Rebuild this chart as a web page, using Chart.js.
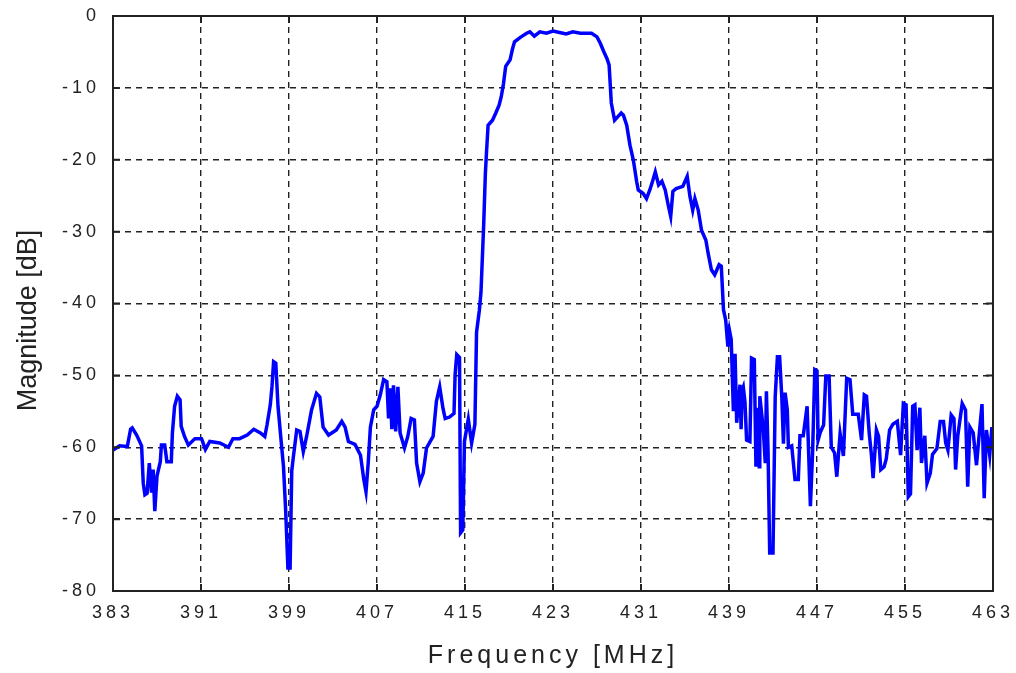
<!DOCTYPE html>
<html>
<head>
    <meta charset='utf-8'>
    <title>Filter response</title>
    <script src="https://cdn.jsdelivr.net/npm/chart.js@4.4.1/dist/chart.umd.min.js"></script>
    <style>
        body { margin: 0; background: #fff; }
    </style>
</head>
<body>
    <canvas id="chart" width="1016" height="673"></canvas>
    <script>
        // frequency [MHz] and magnitude [dB]
        var freq = [383.0, 383.4, 383.6, 384.3, 384.6, 384.75, 385.15, 385.6, 385.75, 385.9, 386.1, 386.3, 386.5, 386.65, 386.8,
            387.0, 387.3, 387.4, 387.7, 387.9, 388.3, 388.4, 388.6, 388.85, 389.1, 389.2, 389.5, 389.85, 390.45, 391.05,
            391.4, 391.8, 392.7, 393.5, 393.9, 394.5, 395.2, 395.8, 396.4, 396.8, 397.0, 397.3, 397.45, 397.6, 397.8,
            398.0, 398.3, 398.5, 398.7, 398.9, 399.1, 399.25, 399.4, 399.7, 400.0, 400.3, 400.6, 401.05, 401.5, 401.8,
            402.1, 402.6, 403.3, 403.8, 404.1, 404.4, 405.0, 405.5, 405.8, 406.0, 406.2, 406.4, 406.7, 407.0, 407.3,
            407.6, 407.9, 408.05, 408.2, 408.35, 408.5, 408.7, 408.9, 409.1, 409.5, 409.8, 410.1, 410.4, 410.6, 410.9,
            411.2, 411.5, 412.1, 412.4, 412.7, 413.0, 413.2, 413.6, 414.0, 414.1, 414.25, 414.5, 414.6, 414.8, 414.95,
            415.3, 415.6, 415.9, 416.05, 416.3, 416.45, 416.7, 416.85, 416.95, 417.1, 417.5, 417.8, 418.1, 418.3, 418.5,
            418.7, 419.1, 419.3, 419.5, 420.0, 420.6, 420.9, 421.3, 421.8, 422.4, 423.0, 423.6, 424.2, 424.8, 425.5,
            426.5, 427.0, 427.3, 427.6, 427.9, 428.1, 428.2, 428.3, 428.6, 428.9, 429.2, 429.4, 429.7, 430.0, 430.3,
            430.6, 430.75, 431.2, 431.5, 431.8, 432.05, 432.3, 432.6, 432.9, 433.2, 433.5, 433.7, 433.9, 434.2, 434.8,
            435.2, 435.45, 435.7, 435.9, 436.2, 436.5, 436.9, 437.1, 437.4, 437.7, 438.1, 438.3, 438.5, 438.7, 438.9,
            439.05, 439.2, 439.4, 439.55, 439.7, 440.0, 440.1, 440.2, 440.3, 440.45, 440.6, 440.9, 441.05, 441.3, 441.45,
            441.6, 441.75, 441.8, 442.1, 442.3, 442.4, 442.55, 442.7, 443.0, 443.2, 443.4, 443.6, 443.8, 443.95, 444.1,
            444.3, 444.4, 444.7, 445.0, 445.3, 445.45, 445.75, 446.1, 446.4, 446.6, 446.8, 447.0, 447.1, 447.3, 447.6,
            447.8, 448.1, 448.3, 448.6, 448.8, 449.1, 449.4, 449.7, 450.0, 450.25, 450.75, 451.05, 451.3, 451.5, 451.75,
            451.95, 452.1, 452.4, 452.6, 452.8, 453.1, 453.3, 453.6, 453.9, 454.3, 454.6, 454.85, 455.1, 455.3, 455.5,
            455.7, 455.9, 456.1, 456.35, 456.5, 456.8, 457.0, 457.3, 457.5, 457.9, 458.2, 458.5, 458.7, 458.9, 459.2,
            459.45, 459.6, 459.8, 460.2, 460.5, 460.7, 460.9, 461.2, 461.5, 461.7, 462.0, 462.2, 462.4, 462.7, 462.9,
            463.0];
        var mag = [-60.4, -60.0, -59.8, -59.9, -57.5, -57.3, -58.3, -59.8, -65.0, -66.6, -66.4, -62.2, -66.3, -63.1, -68.9,
            -64.0, -62.0, -59.7, -59.7, -62.0, -62.0, -58.0, -54.3, -52.9, -53.4, -57.1, -58.5, -59.7, -58.8, -58.8,
            -60.3, -59.2, -59.4, -60.0, -58.8, -58.8, -58.3, -57.5, -58.0, -58.5, -56.9, -54.1, -51.6, -48.1, -48.3,
            -54.3, -59.4, -62.7, -68.9, -76.8, -76.8, -63.3, -61.3, -57.6, -57.8, -60.6, -58.5, -54.8, -52.5, -53.0,
            -57.2, -58.3, -57.6, -56.4, -57.2, -59.2, -59.6, -61.1, -64.5, -66.2, -62.2, -57.2, -54.8, -54.3, -52.7,
            -50.6, -50.9, -56.0, -51.8, -57.5, -51.4, -57.8, -51.6, -58.0, -60.1, -58.5, -56.0, -56.2, -62.2, -64.8,
            -63.6, -60.1, -58.5, -53.6, -51.6, -54.6, -56.0, -55.8, -55.3, -49.9, -47.1, -47.5, -71.9, -71.5, -59.2,
            -56.1, -59.4, -56.8, -44.0, -41.0, -38.5, -29.0, -22.0, -19.1, -15.2, -14.5, -13.5, -12.4, -11.2, -9.4,
            -7.0, -6.1, -4.7, -3.6, -3.0, -2.4, -2.2, -2.8, -2.2, -2.4, -2.1, -2.3, -2.5, -2.2, -2.4,
            -2.4, -2.9, -3.8, -4.9, -5.9, -6.8, -9.4, -12.1, -14.5, -14.0, -13.5, -13.8, -15.2, -18.0, -20.0,
            -23.0, -24.2, -24.7, -25.4, -24.2, -23.0, -21.7, -23.5, -23.0, -24.2, -26.5, -27.9, -24.4, -24.0, -23.7,
            -22.3, -25.1, -27.0, -25.4, -27.0, -29.8, -31.2, -33.0, -35.3, -36.0, -34.6, -34.8, -40.9, -42.3, -46.0,
            -43.8, -45.0, -55.0, -47.0, -56.6, -51.3, -57.5, -52.0, -51.6, -53.7, -59.0, -59.2, -47.6, -47.8, -62.7,
            -54.5, -62.7, -52.9, -57.2, -62.2, -52.2, -60.5, -74.7, -74.7, -53.0, -47.4, -47.4, -53.0, -59.5, -52.4,
            -54.8, -60.0, -59.8, -64.5, -64.5, -58.4, -58.4, -54.3, -68.2, -60.7, -49.2, -49.4, -59.0, -57.9, -56.9,
            -50.1, -50.1, -60.0, -60.8, -64.1, -58.1, -61.2, -50.4, -50.6, -55.4, -55.4, -59.0, -52.7, -52.9, -58.1,
            -61.1, -64.3, -57.6, -58.5, -63.1, -62.7, -61.6, -57.6, -56.8, -56.4, -61.1, -53.9, -54.1, -66.9, -66.5,
            -54.3, -54.1, -60.4, -54.5, -62.2, -58.4, -65.0, -63.6, -61.0, -60.2, -56.4, -56.4, -59.4, -60.4, -55.5,
            -56.0, -63.1, -58.4, -53.9, -54.8, -65.5, -57.2, -58.0, -62.5, -59.0, -54.0, -67.1, -57.6, -61.1, -57.2,
            -60.0];

        var xMin = 383, xMax = 463, xStep = 8;
        var yMin = -80, yMax = 0, yStep = 10;

        var points = freq.map(function (f, i) { return { x: f, y: mag[i] }; });

        // wide lettering like the stretched original
        var spacing = {
            id: 'spacing',
            beforeDraw: function (chart) { chart.ctx.letterSpacing = '4px'; },
            afterDraw: function (chart) { chart.ctx.letterSpacing = '0px'; }
        };

        // box around the plot and short inward ticks on all sides
        var frame = {
            id: 'frame',
            afterDraw: function (chart) {
                var ctx = chart.ctx, a = chart.chartArea;
                var xs = chart.scales.x, ys = chart.scales.y;
                var len = 7;
                ctx.save();
                ctx.strokeStyle = '#222';
                ctx.lineWidth = 2;
                ctx.setLineDash([]);
                ctx.beginPath();
                xs.ticks.forEach(function (t) {
                    var px = xs.getPixelForValue(t.value);
                    ctx.moveTo(px, a.bottom); ctx.lineTo(px, a.bottom - len);
                    ctx.moveTo(px, a.top); ctx.lineTo(px, a.top + len);
                });
                ys.ticks.forEach(function (t) {
                    var py = ys.getPixelForValue(t.value);
                    ctx.moveTo(a.left, py); ctx.lineTo(a.left + len, py);
                    ctx.moveTo(a.right, py); ctx.lineTo(a.right - len, py);
                });
                ctx.stroke();
                ctx.strokeRect(a.left, a.top, a.right - a.left, a.bottom - a.top);
                ctx.restore();
            }
        };

        // the y title is narrower and sits a little low in the original
        function tweakYTitle(s) {
            if (s._titleWrapped) return;
            var orig = s.drawTitle;
            s.drawTitle = function () {
                var c = this.ctx;
                c.save();
                c.letterSpacing = '0px';
                c.translate(0, 17);
                orig.apply(this, arguments);
                c.restore();
            };
            s._titleWrapped = true;
        }

        var ctx = document.getElementById('chart').getContext('2d');
        var chart = new Chart(ctx, {
            type: 'line',
            data: {
                datasets: [{
                    label: 'Magnitude',
                    data: points,
                    borderColor: '#0000ff',
                    borderWidth: 3.5,
                    pointRadius: 0,
                    tension: 0
                }]
            },
            options: {
                responsive: false,
                animation: false,
                layout: { padding: { top: 16, right: 23, left: 0, bottom: 0 } },
                plugins: {
                    legend: { display: false },
                    tooltip: { enabled: false }
                },
                scales: {
                    x: {
                        type: 'linear',
                        min: xMin,
                        max: xMax,
                        afterFit: function (s) { s.height = 82; s.paddingLeft = 0; s.paddingRight = 0; },
                        ticks: {
                            stepSize: xStep,
                            padding: 11,
                            color: '#222',
                            font: { family: 'Liberation Sans', size: 18 }
                        },
                        grid: { color: '#222', lineWidth: 1.4, drawTicks: false },
                        border: { display: true, color: '#222', width: 2, dash: [6, 5] },
                        title: {
                            display: true,
                            text: 'Frequency [MHz]',
                            color: '#222',
                            font: { family: 'Liberation Sans', size: 25 },
                            padding: { top: 0, bottom: 2 }
                        }
                    },
                    y: {
                        min: yMin,
                        max: yMax,
                        afterFit: function (s) {
                            s.width = 113; s.paddingTop = 0; s.paddingBottom = 0;
                            tweakYTitle(s);
                        },
                        ticks: {
                            stepSize: yStep,
                            padding: 13,
                            color: '#222',
                            font: { family: 'Liberation Sans', size: 18 }
                        },
                        grid: { color: '#222', lineWidth: 1.4, drawTicks: false },
                        border: { display: true, color: '#222', width: 2, dash: [6, 5] },
                        title: {
                            display: true,
                            text: 'Magnitude [dB]',
                            color: '#222',
                            font: { family: 'Liberation Sans', size: 27 },
                            padding: { top: 12, bottom: 0 }
                        }
                    }
                }
            },
            plugins: [spacing, frame]
        });
    </script>
</body>
</html>
